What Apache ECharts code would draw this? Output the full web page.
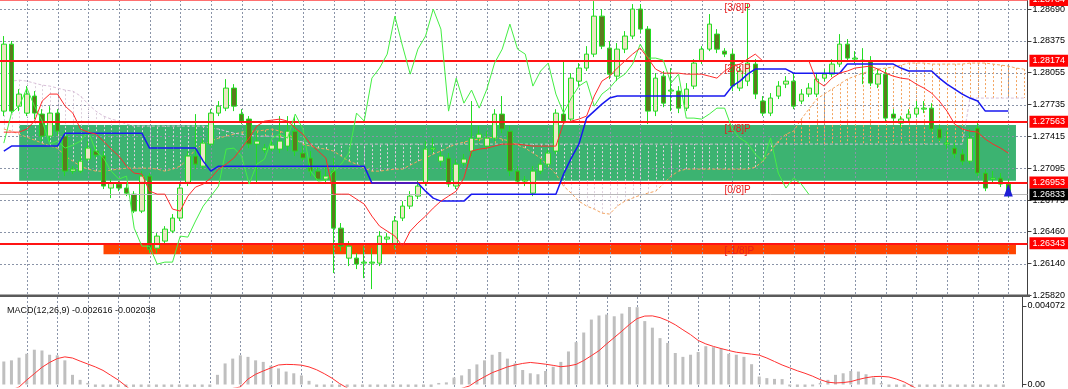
<!DOCTYPE html>
<html><head><meta charset="utf-8">
<script src="https://cdn.jsdelivr.net/npm/echarts@6/dist/echarts.min.js"></script>
<style>html,body{margin:0;padding:0;background:#fff}#c{width:1068px;height:389px}</style>
</head><body><div id="c"></div>
<script>
// ---------- data ----------
const N = 134;
const categories = []; for (let i = 0; i < N; i++) categories.push(String(i));

const opens = [1.27669,1.28341,1.27719,1.27649,1.27820,1.27639,1.27418,1.27649,1.27418,1.27067,
1.27067,1.27188,1.27268,1.27218,1.26897,1.26937,1.26897,1.26836,1.26666,1.27017,
1.26294,1.26365,1.26465,1.26596,1.26947,1.27218,1.27117,1.27338,1.27649,1.27699,
1.27900,1.27639,1.27589,1.27338,1.27278,1.27288,1.27288,1.27318,1.27468,1.27248,
1.27198,1.27067,1.26987,1.27067,1.26495,1.26194,1.26194,1.26144,1.26144,1.26144,
1.26385,1.26335,1.26596,1.26716,1.26816,1.26947,1.27288,1.27167,1.27198,1.26917,
1.27147,1.27268,1.27398,1.27318,1.27398,1.27639,1.27468,1.27067,1.26967,1.26846,
1.27067,1.27137,1.27268,1.27639,1.27589,1.27970,1.28101,1.28241,1.28622,1.28301,
1.28020,1.28291,1.28422,1.28693,1.28492,1.27669,1.28020,1.27870,1.27870,1.27699,
1.27920,1.28171,1.28291,1.28442,1.28271,1.28241,1.27900,1.27970,1.28141,1.27770,
1.27649,1.27820,1.27940,1.27970,1.27770,1.27840,1.27840,1.28000,1.28040,1.28141,
1.28341,1.28191,1.28171,1.28171,1.27940,1.28040,1.27639,1.27549,1.27599,1.27639,
1.27689,1.27699,1.27489,1.27338,1.27298,1.27238,1.27167,1.27499,1.27047,1.26987,
1.26997,1.26937];
const closes = [1.28341,1.27669,1.27840,1.27840,1.27649,1.27418,1.27649,1.27468,1.27067,1.27087,
1.27167,1.27298,1.27228,1.26917,1.26947,1.26897,1.26846,1.26666,1.27017,1.26284,
1.26415,1.26485,1.26596,1.26897,1.27218,1.27137,1.27348,1.27649,1.27719,1.27900,
1.27719,1.27569,1.27338,1.27368,1.27298,1.27328,1.27368,1.27468,1.27268,1.27198,
1.27067,1.26987,1.27017,1.26495,1.26314,1.26314,1.26134,1.26154,1.26154,1.26415,
1.26405,1.26566,1.26716,1.26816,1.26917,1.27288,1.27298,1.27218,1.26937,1.27137,
1.27188,1.27398,1.27438,1.27398,1.27639,1.27489,1.27067,1.26967,1.26977,1.27067,
1.27137,1.27248,1.27649,1.27569,1.28000,1.28101,1.28241,1.28622,1.28321,1.28040,
1.28291,1.28422,1.28693,1.28492,1.27669,1.28000,1.27749,1.27880,1.27699,1.27890,
1.28151,1.28291,1.28542,1.28291,1.28241,1.27920,1.28071,1.28151,1.27840,1.27649,
1.27800,1.27920,1.27970,1.27719,1.27840,1.27900,1.27990,1.28040,1.28141,1.28341,
1.28201,1.28201,1.28181,1.27950,1.28040,1.27599,1.27599,1.27589,1.27639,1.27699,
1.27699,1.27489,1.27398,1.27348,1.27238,1.27167,1.27398,1.27047,1.26897,1.26997,
1.26937,1.26833];
const lows = [1.27619,1.27649,1.27669,1.27619,1.27589,1.27368,1.27368,1.27418,1.27017,1.27037,
1.27047,1.27167,1.27198,1.26887,1.26796,1.26866,1.26816,1.26646,1.26646,1.26244,
1.26244,1.26335,1.26445,1.26566,1.26917,1.27087,1.27087,1.27318,1.27619,1.27669,
1.27669,1.27539,1.27298,1.26947,1.27248,1.27268,1.27248,1.27268,1.27218,1.27167,
1.27017,1.26967,1.26947,1.26044,1.26264,1.26114,1.26084,1.25993,1.25883,1.26114,
1.26345,1.26284,1.26566,1.26686,1.26786,1.26917,1.27248,1.27117,1.26907,1.26887,
1.27117,1.27218,1.27368,1.27288,1.27368,1.27448,1.27017,1.26937,1.26917,1.26816,
1.27037,1.27107,1.27238,1.27539,1.27559,1.27920,1.28071,1.28211,1.28291,1.27990,
1.27970,1.28251,1.28392,1.28452,1.27539,1.27619,1.27709,1.27669,1.27649,1.27669,
1.27890,1.28141,1.28271,1.28251,1.28211,1.27870,1.27870,1.27920,1.27790,1.27619,
1.27619,1.27790,1.27900,1.27689,1.27739,1.27810,1.27810,1.27970,1.28010,1.28111,
1.28171,1.28151,1.27940,1.27920,1.27900,1.27569,1.27569,1.27499,1.27569,1.27609,
1.27649,1.27458,1.27368,1.27288,1.27198,1.27127,1.27137,1.27017,1.26866,1.26947,
1.26907,1.26806];
const highs = [1.28422,1.28372,1.27890,1.27920,1.27870,1.27689,1.27719,1.27689,1.27468,1.27117,
1.27218,1.27368,1.27318,1.27268,1.26987,1.26967,1.26937,1.26866,1.27067,1.27047,
1.26445,1.26515,1.26636,1.26937,1.27268,1.27639,1.27388,1.27689,1.27770,1.27990,
1.27940,1.27689,1.27619,1.27468,1.27338,1.27368,1.27619,1.27619,1.27619,1.27318,
1.27268,1.27117,1.27117,1.27198,1.26546,1.26365,1.26244,1.26314,1.26294,1.26465,
1.26445,1.26616,1.26766,1.26866,1.26967,1.27368,1.27398,1.27268,1.27248,1.27188,
1.27238,1.27770,1.27519,1.27468,1.27689,1.27820,1.27519,1.27117,1.27017,1.27117,
1.27188,1.27288,1.27689,1.28171,1.28050,1.28151,1.28321,1.28773,1.28693,1.28372,
1.28352,1.28472,1.28743,1.28743,1.28522,1.28050,1.28071,1.28101,1.27920,1.27950,
1.28191,1.28321,1.28643,1.28492,1.28301,1.28291,1.28121,1.28743,1.28191,1.27820,
1.27850,1.27970,1.28020,1.28050,1.27890,1.27950,1.28050,1.28091,1.28191,1.28442,
1.28392,1.28271,1.28301,1.28221,1.28091,1.28091,1.27689,1.27619,1.27689,1.27770,
1.27770,1.27749,1.27529,1.27468,1.27348,1.27288,1.27489,1.27549,1.27087,1.27067,
1.27047,1.26987];

const tenkan = [1.27458,1.27458,1.27458,1.27489,1.27569,1.27770,1.27840,1.27840,1.27719,1.27649,
1.27489,1.27458,1.27438,1.27368,1.27288,1.27218,1.27117,1.27047,1.27037,1.26866,
1.26836,1.26836,1.26686,1.26666,1.26816,1.26907,1.26937,1.26997,1.27087,1.27137,
1.27198,1.27298,1.27398,1.27519,1.27569,1.27579,1.27589,1.27569,1.27499,1.27438,
1.27338,1.27268,1.27198,1.26836,1.26836,1.26836,1.26786,1.26736,1.26616,1.26515,
1.26465,1.26415,1.26314,1.26465,1.26546,1.26616,1.26696,1.26766,1.26816,1.26866,
1.26997,1.27268,1.27288,1.27298,1.27318,1.27338,1.27338,1.27338,1.27328,1.27318,
1.27318,1.27318,1.27318,1.27549,1.27569,1.27589,1.27619,1.27820,1.27970,1.28020,
1.28101,1.28171,1.28241,1.28301,1.28201,1.28091,1.28050,1.28050,1.28050,1.28040,
1.28040,1.28040,1.28020,1.28000,1.28071,1.28121,1.28141,1.28191,1.28241,1.28171,
1.28171,1.28171,1.28171,1.28171,1.28171,1.28171,1.27970,1.27920,1.28000,1.28050,
1.28071,1.28101,1.28111,1.28121,1.28091,1.28050,1.28020,1.28000,1.27990,1.27940,
1.27900,1.27850,1.27770,1.27669,1.27539,1.27489,1.27468,1.27458,1.27388,1.27338,
1.27298,1.27248];
const kijun = [1.27268,1.27318,1.27318,1.27318,1.27318,1.27318,1.27318,1.27318,1.27448,1.27448,
1.27448,1.27448,1.27448,1.27448,1.27448,1.27448,1.27448,1.27448,1.27448,1.27298,
1.27298,1.27298,1.27298,1.27298,1.27298,1.27298,1.27167,1.27067,1.27117,1.27117,
1.27117,1.27117,1.27117,1.27117,1.27117,1.27117,1.27117,1.27117,1.27117,1.27117,
1.27117,1.27117,1.27117,1.27117,1.27117,1.27117,1.27117,1.27117,1.26947,1.26947,
1.26947,1.26947,1.26947,1.26947,1.26947,1.26866,1.26796,1.26766,1.26766,1.26766,
1.26766,1.26836,1.26836,1.26836,1.26836,1.26836,1.26836,1.26836,1.26836,1.26836,
1.26836,1.26836,1.26836,1.27037,1.27198,1.27338,1.27599,1.27669,1.27739,1.27800,
1.27820,1.27820,1.27820,1.27820,1.27820,1.27820,1.27820,1.27820,1.27820,1.27820,
1.27820,1.27820,1.27820,1.27820,1.27820,1.27920,1.27970,1.28040,1.28091,1.28091,
1.28091,1.28091,1.28091,1.28050,1.28050,1.28050,1.28050,1.28050,1.28050,1.28050,
1.28141,1.28141,1.28141,1.28141,1.28141,1.28141,1.28141,1.28101,1.28071,1.28071,
1.28071,1.28071,1.28000,1.27940,1.27890,1.27840,1.27800,1.27770,1.27669,1.27669,
1.27669,1.27669];
const chikou = [1.27348,1.27649,1.27719,1.27900,1.27719,1.27569,1.27338,1.27368,1.27298,1.27328,
1.27368,1.27468,1.27268,1.27198,1.27067,1.26987,1.27017,1.26495,1.26314,1.26314,
1.26134,1.26154,1.26154,1.26415,1.26405,1.26566,1.26716,1.26816,1.26917,1.27288,
1.27298,1.27218,1.26937,1.27137,1.27188,1.27398,1.27438,1.27398,1.27639,1.27489,
1.27067,1.26967,1.26977,1.27067,1.27137,1.27248,1.27649,1.27569,1.28000,1.28101,
1.28241,1.28622,1.28321,1.28040,1.28291,1.28422,1.28693,1.28492,1.27669,1.28000,
1.27749,1.27880,1.27699,1.27890,1.28151,1.28291,1.28542,1.28291,1.28241,1.27920,
1.28071,1.28151,1.27840,1.27649,1.27800,1.27920,1.27970,1.27719,1.27840,1.27900,
1.27990,1.28040,1.28141,1.28341,1.28201,1.28201,1.28181,1.27950,1.28040,1.27599,
1.27599,1.27589,1.27639,1.27699,1.27699,1.27489,1.27398,1.27348,1.27238,1.27167,
1.27398,1.27047,1.26897,1.26997,1.26937,1.26833];
const spanA = [1.27489,1.27468,1.27438,1.27408,1.27378,1.27348,1.27318,1.27298,1.27218,1.27167,
1.27117,1.27087,1.27067,1.27067,1.27077,1.27087,1.27097,1.27097,1.27097,1.27097,
1.27087,1.27067,1.27087,1.27117,1.27188,1.27288,1.27338,1.27368,1.27398,1.27418,
1.27438,1.27458,1.27468,1.27468,1.27479,1.27489,1.27468,1.27438,1.27388,1.27338,
1.27318,1.27298,1.27288,1.27268,1.27218,1.27167,1.27137,1.27097,1.27067,1.27067,
1.27077,1.27087,1.27087,1.27127,1.27167,1.27198,1.27238,1.27268,1.27308,1.27338,
1.27358,1.27378,1.27388,1.27398,1.27408,1.27388,1.27368,1.27328,1.27298,1.27248,
1.27198,1.27117,1.27037,1.26917,1.26846,1.26766,1.26716,1.26686,1.26646,1.26636,
1.26716,1.26766,1.26796,1.26826,1.26846,1.26866,1.26937,1.27017,1.27067,1.27087,
1.27087,1.27087,1.27087,1.27087,1.27087,1.27087,1.27087,1.27087,1.27107,1.27167,
1.27268,1.27368,1.27438,1.27468,1.27589,1.27689,1.27790,1.27840,1.27890,1.27940,
1.27990,1.28020,1.28050,1.28071,1.28091,1.28101,1.28111,1.28131,1.28151,1.28151,
1.28151,1.28141,1.28141,1.28141,1.28141,1.28141,1.28151,1.28151,1.28151,1.28141,
1.28131,1.28121,1.28101,1.28091];
const spanB = [1.27970,1.27970,1.27980,1.27970,1.27950,1.27930,1.27920,1.27900,1.27880,1.27870,
1.27820,1.27739,1.27669,1.27619,1.27589,1.27569,1.27539,1.27519,1.27519,1.27519,
1.27519,1.27519,1.27519,1.27519,1.27519,1.27519,1.27519,1.27499,1.27489,1.27468,
1.27448,1.27438,1.27428,1.27418,1.27418,1.27418,1.27408,1.27398,1.27378,1.27358,
1.27338,1.27338,1.27338,1.27338,1.27338,1.27338,1.27338,1.27338,1.27338,1.27338,
1.27338,1.27338,1.27338,1.27338,1.27338,1.27338,1.27338,1.27338,1.27338,1.27338,
1.27338,1.27338,1.27338,1.27338,1.27338,1.27338,1.27338,1.27338,1.27338,1.27338,
1.27338,1.27338,1.27338,1.27338,1.27338,1.27338,1.27338,1.27338,1.27338,1.27338,
1.27338,1.27338,1.27338,1.27338,1.27338,1.27338,1.27338,1.27338,1.27338,1.27338,
1.27338,1.27338,1.27338,1.27338,1.27338,1.27338,1.27338,1.27338,1.27338,1.27338,
1.27338,1.27338,1.27338,1.27338,1.27338,1.27338,1.27338,1.27338,1.27338,1.27338,
1.27338,1.27338,1.27338,1.27338,1.27338,1.27338,1.27338,1.27338,1.27338,1.27338,
1.27338,1.27338,1.27338,1.27338,1.27338,1.27338,1.27800,1.27800,1.27800,1.27800,
1.27800,1.27800,1.27800,1.27800];

const macdHist = [0.00119,0.00125,0.00139,0.00159,0.00180,0.00176,0.00154,0.00151,0.00125,0.00050,
0.00024,0.00008,-0.0003,-0.0008,-0.0012,-0.0016,-0.0019,-0.0022,-0.0024,-0.0030,
-0.0031,-0.0030,-0.0028,-0.0024,-0.0018,-0.0014,-0.0010,-0.0004,0.00050,0.00109,
0.00134,0.00151,0.00143,0.00125,0.00117,0.00097,0.00083,0.00067,0.00058,0.00047,
0.00019,-0.0002,-0.0004,-0.0012,-0.0018,-0.0022,-0.0026,-0.0028,-0.0030,-0.0030,
-0.0029,-0.0027,-0.0024,-0.0020,-0.0016,-0.0010,-0.0004,0.00008,0.00011,0.00036,
0.00047,0.00080,0.00104,0.00125,0.00154,0.00168,0.00134,0.00109,0.00075,0.00058,
0.00053,0.00070,0.00092,0.00117,0.00171,0.00219,0.00269,0.00336,0.00357,0.00362,
0.00353,0.00367,0.00401,0.00400,0.00328,0.00294,0.00240,0.00215,0.00163,0.00143,
0.00154,0.00168,0.00198,0.00193,0.00185,0.00159,0.00154,0.00143,0.00105,0.00041,
0.00033,0.00029,0.00028,-0.0001,-0.0002,-0.0002,-0.0001,0.00008,0.00024,0.00050,
0.00058,0.00070,0.00067,0.00053,0.00036,0.00008,-0.0002,-0.0004,-0.0006,-0.0008,
-0.0011,-0.0014,-0.0017,-0.0019,-0.0021,-0.0022,-0.0023,-0.0025,-0.0026,-0.0026,
-0.0026,-0.002616];
const macdSignal = [-0.00048,-0.00028,-0.00013,0.00023,0.00056,0.00089,0.00114,0.00134,0.00143,0.00137,
0.00121,0.00106,0.00091,0.00073,0.00048,0.00023,-0.00008,-0.0004,-0.0007,-0.0010,
-0.0013,-0.0016,-0.0018,-0.0019,-0.0019,-0.0018,-0.0016,-0.0013,-0.0009,-0.0005,
-0.0002,-0.00013,0.00028,0.00053,0.00070,0.00086,0.00101,0.00104,0.00103,0.00100,
0.00091,0.00076,0.00056,0.00033,0.00005,-0.00018,-0.0005,-0.0008,-0.0011,-0.0014,
-0.0016,-0.0018,-0.0019,-0.0019,-0.0018,-0.0016,-0.0013,-0.0010,-0.0007,-0.0004,
-0.0002,-0.00008,0.00018,0.00040,0.00061,0.00076,0.00091,0.00101,0.00109,0.00114,
0.00110,0.00105,0.00099,0.00092,0.00096,0.00104,0.00124,0.00149,0.00175,0.00210,
0.00243,0.00276,0.00311,0.00341,0.00354,0.00355,0.00346,0.00330,0.00309,0.00283,
0.00258,0.00228,0.00210,0.00197,0.00186,0.00176,0.00167,0.00162,0.00157,0.00152,
0.00137,0.00119,0.00101,0.00086,0.00071,0.00058,0.00043,0.00025,0.00012,0.00008,
0.00010,0.00015,0.00026,0.00035,0.00041,0.00042,0.00039,0.00028,0.00013,-0.00008,
-0.0003,-0.0005,-0.0007,-0.0009,-0.0011,-0.0013,-0.0014,-0.0016,-0.0017,-0.0018,
-0.0019,-0.002038];

const priceTicks = [1.28690,1.28375,1.28055,1.27735,1.27415,1.27095,1.26775,1.26460,1.26140,1.25820];
const macdTicks = [0.004072, 0];
const levelValues = [1.28784,1.28174,1.27563,1.26953,1.26343];
const levelNames = ['[3/8]P','[2/8]P','[1/8]P','[0/8]P','[-1/8]P'];
const bidPrice = 1.26833;
const vGrid = [3,7,11,15,19,23,27,31,35,39,43,47,51,55,59,63,67,71,75,79,83,87,91,95,99,103,107,111,115,119,123,127,131];
const zones = [ // [fromBar, toBar, top, bottom]
  [2, 132, 1.27530, 1.26970],
  [13, 132, 1.26345, 1.26232]
];
const zoneColors = ['#3cb371', '#ff4500'];
const macdLabel = 'MACD(12,26,9) -0.002616 -0.002038';

// ---------- chart ----------
const FONT = 'Liberation Sans, Arial, sans-serif';
const chart = echarts.init(document.getElementById('c'), null, {renderer: 'canvas'});

function vLine(params, api) {
  const cs = params.coordSys;
  const x = Math.round(api.coord([api.value(0), api.value(1)])[0]) + 0.5;
  return {type: 'line', shape: {x1: x, y1: cs.y, x2: x, y2: cs.y + cs.height},
    style: {stroke: '#8a94a8', lineWidth: 1, lineDash: [2, 2]}};
}
function hLine(params, api) {
  const cs = params.coordSys;
  const y = Math.round(api.coord([api.value(0), api.value(1)])[1]) + 0.5;
  return {type: 'line', shape: {x1: cs.x, y1: y, x2: cs.x + cs.width, y2: y},
    style: {stroke: '#8a94a8', lineWidth: 1, lineDash: [2, 2]}};
}
function zoneRect(params, api) {
  const p1 = api.coord([api.value(0), api.value(2)]);
  const p2 = api.coord([api.value(1), api.value(3)]);
  return {type: 'rect', shape: {x: p1[0], y: p1[1], width: p2[0] - p1[0], height: p2[1] - p1[1]},
    style: {fill: api.visual('color')}};
}
function hatch(params, api) {
  const a = api.value(1), b = api.value(2);
  const p1 = api.coord([api.value(0), a]);
  const p2 = api.coord([api.value(0), b]);
  const x = Math.round(p1[0]) + 0.5;
  return {type: 'line', shape: {x1: x, y1: p1[1], x2: x, y2: p2[1]},
    style: {stroke: a > b ? '#f4a460' : '#ddd0dd', lineWidth: 1, lineDash: [2, 2]}};
}

const levelLines = levelValues.map((v, k) => ({
  yAxis: v,
  lineStyle: {color: k === 0 ? '#ff7070' : '#ff1414', width: 2, type: 'solid'},
  label: {show: true, position: 'end', distance: 2, formatter: v.toFixed(5), color: '#fff',
    backgroundColor: '#ff0000', padding: [2, 3, 1, 3], fontSize: 9, fontFamily: FONT}
}));
levelLines.push({
  yAxis: bidPrice,
  lineStyle: {color: '#b8b8b8', width: 1, type: 'solid'},
  label: {show: true, position: 'end', distance: 2, formatter: bidPrice.toFixed(5), color: '#fff',
    backgroundColor: '#000', padding: [2, 3, 1, 3], fontSize: 9, fontFamily: FONT}
});

const option = {
  animation: false,
  backgroundColor: '#ffffff',
  textStyle: {fontFamily: FONT},
  title: {text: macdLabel, left: 2, top: 301, textStyle: {fontSize: 9, fontWeight: 'normal', color: '#111', fontFamily: FONT}},
  grid: [
    {left: 0, right: 38, top: 0, height: 296},
    {left: 0, right: 38, top: 297, bottom: 0}
  ],
  xAxis: [
    {type: 'category', gridIndex: 0, data: categories, boundaryGap: true,
      axisLine: {show: false}, axisTick: {show: false}, axisLabel: {show: false}, splitLine: {show: false}},
    {type: 'category', gridIndex: 1, data: categories, boundaryGap: true,
      axisLine: {show: false}, axisTick: {show: false}, axisLabel: {show: false}, splitLine: {show: false}}
  ],
  yAxis: [
    {type: 'value', gridIndex: 0, position: 'right', min: 1.25814, max: 1.28784, scale: true,
      axisLine: {show: true, lineStyle: {color: '#404040', width: 1}},
      axisTick: {show: true, customValues: priceTicks, length: 4, lineStyle: {color: '#404040'}},
      axisLabel: {show: true, customValues: priceTicks, formatter: v => v.toFixed(5), fontSize: 9, color: '#000', margin: 5, fontFamily: FONT},
      splitLine: {show: false}},
    {type: 'value', gridIndex: 1, position: 'right', min: -0.000127, max: 0.004527,
      axisLine: {show: true, lineStyle: {color: '#404040', width: 1}},
      axisTick: {show: true, customValues: macdTicks, length: 4, lineStyle: {color: '#404040'}},
      axisLabel: {show: true, customValues: macdTicks, formatter: v => (v === 0 ? '0.00' : v.toFixed(6)), fontSize: 9, color: '#000', margin: 5, fontFamily: FONT},
      splitLine: {show: false}}
  ],
  graphic: [
    {type: 'rect', shape: {x: 0, y: 294.5, width: 1030, height: 2.5}, style: {fill: '#5a5a5a'}, z: 100}
  ],
  series: [
    {type: 'custom', name: 'zones', xAxisIndex: 0, yAxisIndex: 0, z: 1, silent: true,
      renderItem: zoneRect, encode: {x: [0, 1], y: [2, 3]},
      data: zones.map((z, k) => ({value: z, itemStyle: {color: zoneColors[k]}}))},
    {type: 'custom', name: 'hgrid', xAxisIndex: 0, yAxisIndex: 0, z: 2, silent: true,
      renderItem: hLine, encode: {x: 0, y: 1}, data: priceTicks.map(v => [0, v])},
    {type: 'custom', name: 'vgrid', xAxisIndex: 0, yAxisIndex: 0, z: 2, silent: true,
      renderItem: vLine, encode: {x: 0, y: 1}, data: vGrid.map(i => [i, 1.27])},
    {type: 'custom', name: 'vgrid2', xAxisIndex: 1, yAxisIndex: 1, z: 2, silent: true,
      renderItem: vLine, encode: {x: 0, y: 1}, data: vGrid.map(i => [i, 0.002])},
    {type: 'custom', name: 'cloud', xAxisIndex: 0, yAxisIndex: 0, z: 3, silent: true,
      renderItem: hatch, encode: {x: 0, y: [1, 2]}, data: spanA.map((a, i) => [i, a, spanB[i]])},
    {type: 'line', name: 'SpanA', xAxisIndex: 0, yAxisIndex: 0, z: 3, data: spanA, showSymbol: false, silent: true,
      lineStyle: {color: '#f4a460', width: 1, type: [3, 2]}},
    {type: 'line', name: 'SpanB', xAxisIndex: 0, yAxisIndex: 0, z: 3, data: spanB, showSymbol: false, silent: true,
      lineStyle: {color: '#d8bfd8', width: 1, type: [3, 2]}},
    {type: 'candlestick', name: 'price', xAxisIndex: 0, yAxisIndex: 0, z: 4, barWidth: 5,
      data: opens.map((o, i) => [o, closes[i], lows[i], highs[i]]),
      itemStyle: {color: '#ebe6c3', color0: '#5b7a1e', borderColor: '#22dd22', borderColor0: '#22dd22', borderWidth: 1},
      markPoint: {silent: true, symbol: 'triangle', symbolSize: [9, 12], label: {show: false},
        itemStyle: {color: '#1e1ed6'}, data: [{coord: [131, 1.26872]}]}},
    {type: 'line', name: 'Chikou', xAxisIndex: 0, yAxisIndex: 0, z: 5, data: chikou, showSymbol: false, silent: true,
      lineStyle: {color: '#44ee44', width: 1}},
    {type: 'line', name: 'Kijun', xAxisIndex: 0, yAxisIndex: 0, z: 5, data: kijun, showSymbol: false, silent: true,
      lineStyle: {color: '#1818f0', width: 1.5}},
    {type: 'line', name: 'Tenkan', xAxisIndex: 0, yAxisIndex: 0, z: 5, data: tenkan, showSymbol: false, silent: true,
      lineStyle: {color: '#ff2a2a', width: 1}},
    {type: 'line', name: 'levels', xAxisIndex: 0, yAxisIndex: 0, z: 6, data: [], silent: true,
      markLine: {silent: true, precision: 5, symbol: ['none', 'none'], animation: false, data: levelLines},
      markPoint: {silent: true, symbol: 'circle', symbolSize: 0,
        label: {show: true, formatter: '{b}', position: 'right', distance: 0, offset: [0, 8], color: '#e81c1c', fontSize: 10, fontFamily: FONT},
        data: levelNames.map((n, k) => ({name: n, coord: [94, levelValues[k]]}))}},
    {type: 'bar', name: 'MACD', xAxisIndex: 1, yAxisIndex: 1, z: 3, data: macdHist, barWidth: 3, silent: true,
      itemStyle: {color: '#bfbfbf'}},
    {type: 'line', name: 'Signal', xAxisIndex: 1, yAxisIndex: 1, z: 4, data: macdSignal, showSymbol: false, silent: true,
      lineStyle: {color: '#ff3030', width: 1}}
  ]
};
chart.setOption(option);
</script>
</body></html>
